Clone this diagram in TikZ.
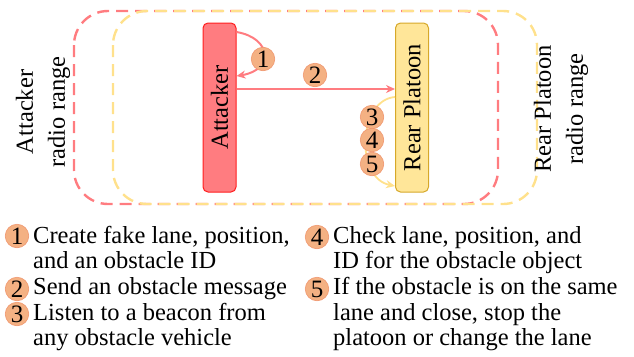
\documentclass[tikz,border=0pt]{standalone}
\usepackage{fontspec}
\setmainfont{Liberation Serif}
\usetikzlibrary{arrows.meta}
\definecolor{attfill}{RGB}{255,124,128}
\definecolor{attdraw}{RGB}{255,30,30}
\definecolor{rpfill}{RGB}{255,230,153}
\definecolor{rpdraw}{RGB}{214,168,41}
\definecolor{numfill}{RGB}{244,177,131}
\definecolor{numdraw}{RGB}{240,150,110}
\definecolor{redrange}{RGB}{255,124,128}
\definecolor{yelrange}{RGB}{255,225,140}
\tikzset{
  rangebox/.style={line width=2.4pt, dash pattern=on 12pt off 7pt, rounded corners=34pt},
  vehbox/.style={rounded corners=5pt, minimum width=33pt, minimum height=169pt, line width=1pt, inner sep=0pt},
  numc/.style={circle, fill=numfill, draw=numdraw, line width=0.6pt, minimum size=23.5pt, inner sep=0pt, font=\fontsize{25}{25}\selectfont},
  bigtxt/.style={font=\fontsize{24.5}{25.6}\selectfont},
  sidetxt/.style={font=\fontsize{24.5}{32}\selectfont, align=center, rotate=90},
  legtxt/.style={font=\fontsize{24.5}{25.5}\selectfont, align=left, anchor=base west, inner sep=0pt},
  redarr/.style={draw=redrange, line width=2pt, -{Stealth[length=9pt,width=8pt]}},
  yelarr/.style={draw=yelrange, line width=1.8pt, -{Stealth[length=9pt,width=8pt]}},
}
\begin{document}
\begin{tikzpicture}[x=1pt,y=-1pt]
\useasboundingbox (0,0) rectangle (634,356);
% radio ranges
\draw[rangebox, draw=redrange] (74,11) rectangle (498,204);
\draw[rangebox, draw=yelrange] (113,11) rectangle (537,204);
% vehicles
\node[vehbox, fill=attfill, draw=attdraw] (att) at (219.5,107.5) {};
\node[bigtxt, rotate=90] (atttxt) at (att.center) {Attacker};
\node[vehbox, fill=rpfill, draw=rpdraw] (rp) at (412,107.5) {};
\node[bigtxt, rotate=90] (rptxt) at (rp.center) {Rear Platoon};
% side labels
\node[sidetxt] (attrange) at (43,112) {Attacker\\radio range};
\node[sidetxt] (rprange) at (561,109) {Rear Platoon\\radio range};
% connectors
\coordinate (a1s) at (att.east |- 0,32);
\coordinate (a1e) at (att.east |- 0,76);
\draw[redarr] (a1s) .. controls (272,38) and (274,70) .. (a1e);
\coordinate (a2s) at (att.east |- 0,89);
\coordinate (a2e) at (rp.west |- 0,89);
\draw[redarr] (a2s) -- (a2e);
\coordinate (a3s) at (rp.west |- 0,97);
\coordinate (a3e) at (rp.west |- 0,186);
\draw[yelarr] (a3s) .. controls (358,100) and (355,178) .. (a3e);
% step numbers in diagram
\node[numc] (n1) at (263,59) {1};
\node[numc] (n2) at (315,75) {2};
\node[numc] (n3) at (372,117) {3};
\node[numc] (n4) at (372,140) {4};
\node[numc] (n5) at (372,164) {5};
% legend (base anchor = baseline of last line)
\node[numc] (l1) at (17,236) {1};
\node[legtxt] (t1) at (33,268.5) {Create fake lane, position,\\and an obstacle ID};
\node[numc] (l2) at (17,289) {2};
\node[legtxt] (t2) at (33,294.5) {Send an obstacle message};
\node[numc] (l3) at (17,314) {3};
\node[legtxt] (t3) at (33,345.5) {Listen to a beacon from\\any obstacle vehicle};
\node[numc] (l4) at (317,237) {4};
\node[legtxt] (t4) at (333,268.5) {Check lane, position, and\\ID for the obstacle object};
\node[numc] (l5) at (317,289) {5};
\node[legtxt] (t5) at (333,345.5) {If the obstacle is on the same\\lane and close, stop the\\platoon or change the lane};
\end{tikzpicture}
\end{document}
